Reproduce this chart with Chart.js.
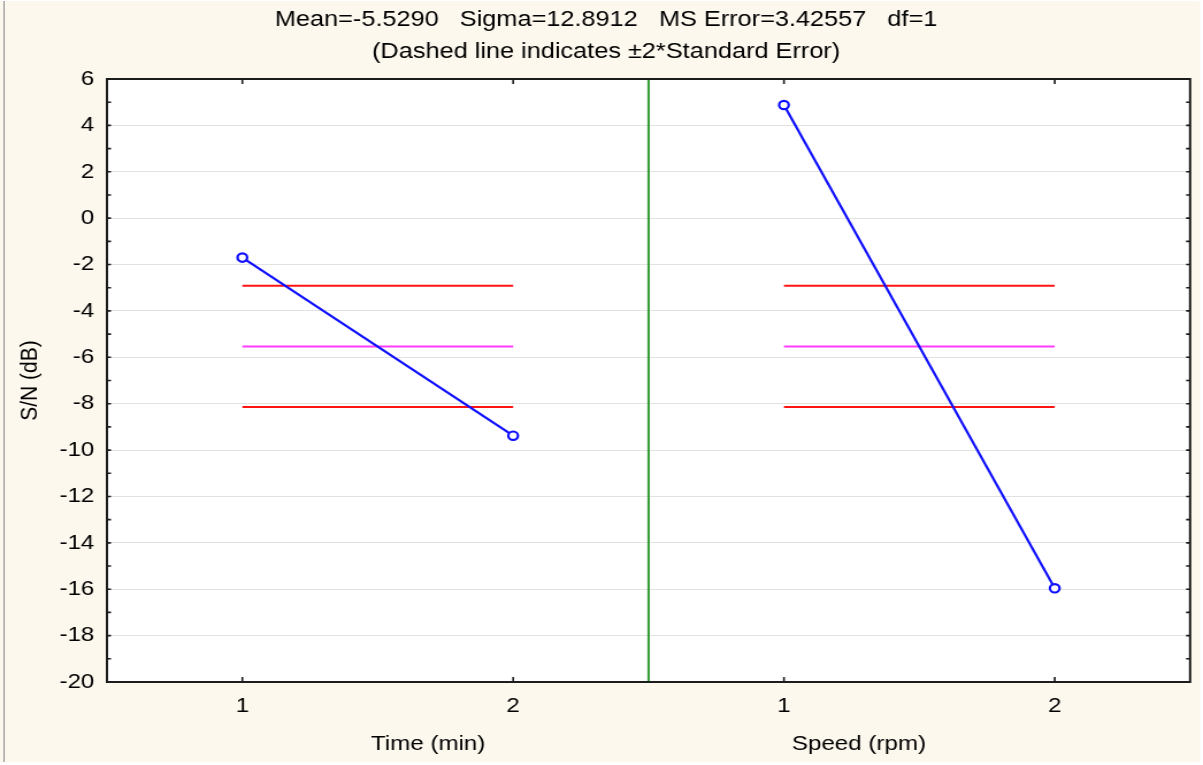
<!DOCTYPE html>
<html>
<head>
<meta charset="utf-8">
<title>S/N main effects</title>
<script src="https://cdn.jsdelivr.net/npm/chart.js@4.4.1/dist/chart.umd.min.js"></script>
<style>
  html, body { margin: 0; padding: 0; background: #ffffff; }
  #c { display: block; width: 1203px !important; height: 765px !important; }
</style>
</head>
<body>
<canvas id="c" width="1046" height="765" style="width:1203px;height:765px;display:block"></canvas>
<script>
// ---- values ----
const factorNames = ['Time (min)', 'Speed (rpm)'];
const xTickLabels = ['1', '2', '1', '2'];
const timeSN = [-1.70, -9.38];
const speedSN = [4.88, -15.96];
const meanSN = -5.529;
const upperLimit = -2.912;   // mean + 2*SE
const lowerLimit = -8.146;   // mean - 2*SE
const yMin = -20, yMax = 6, yStep = 2;
const titleLines = [
  'Mean=-5.5290   Sigma=12.8912   MS Error=3.42557   df=1',
  '(Dashed line indicates \u00b12*Standard Error)'
];

// ---- helpers ----
const FONT = "'Liberation Sans', Arial, sans-serif";
const BLUE = '#1010ff', RED = '#ff1414', MAGENTA = '#ff3cff', GREEN = '#2e9b2e';

// each factor occupies two units of the x scale; levels sit at the half steps
const xPos = (panel, level) => panel * 2 + level + 0.5;
const effect = (vals, panel) => vals.map((v, i) => ({ x: xPos(panel, i), y: v }));
const hline = (v, panel) => [{ x: xPos(panel, 0), y: v }, { x: xPos(panel, 1), y: v }];

const refLine = (data, color) => ({
  data, showLine: true, borderColor: color, borderWidth: 2,
  pointRadius: 0, pointHoverRadius: 0, fill: false
});
const effectLine = (data) => ({
  data, showLine: true, borderColor: BLUE, borderWidth: 2.2,
  pointRadius: 4.2, pointBorderWidth: 2.2, pointBorderColor: BLUE,
  pointBackgroundColor: '#ffffff', pointStyle: 'circle', fill: false
});

const datasets = [
  effectLine(effect(timeSN, 0)),
  effectLine(effect(speedSN, 1)),
  refLine(hline(upperLimit, 0), RED),
  refLine(hline(lowerLimit, 0), RED),
  refLine(hline(upperLimit, 1), RED),
  refLine(hline(lowerLimit, 1), RED),
  refLine(hline(meanSN, 0), MAGENTA),
  refLine(hline(meanSN, 1), MAGENTA),
  refLine([{ x: 2, y: yMin }, { x: 2, y: yMax }], GREEN)
];

// page backdrop, plot background
const backdrop = {
  id: 'backdrop',
  beforeDraw(chart) {
    const { ctx, chartArea: a } = chart;
    ctx.save();
    ctx.fillStyle = '#ffffff';
    ctx.fillRect(0, 0, chart.width, chart.height);
    ctx.fillStyle = '#fdf8ee';
    ctx.fillRect(0, 1, 1043.5, 761);
    ctx.fillStyle = '#8a8a8a';
    ctx.fillRect(3, 1, 1, 761);
    ctx.fillStyle = '#ffffff';
    ctx.fillRect(a.left, a.top, a.right - a.left, a.bottom - a.top);
    ctx.restore();
  }
};

// black frame with inward tick marks, plus factor names under the axis
const frame = {
  id: 'frame',
  afterDatasetsDraw(chart) {
    const { ctx, chartArea: a, scales: { x, y } } = chart;
    ctx.save();
    ctx.strokeStyle = '#1c1c1c';
    ctx.lineWidth = 1.6;
    ctx.beginPath();
    for (let v = yMin + 1; v < yMax; v++) {
      const py = y.getPixelForValue(v);
      ctx.moveTo(a.left, py); ctx.lineTo(a.left + 3.5, py);
      ctx.moveTo(a.right, py); ctx.lineTo(a.right - 3.5, py);
    }
    x.ticks.forEach(t => {
      const px = x.getPixelForValue(t.value);
      ctx.moveTo(px, a.bottom); ctx.lineTo(px, a.bottom - 5);
      ctx.moveTo(px, a.top); ctx.lineTo(px, a.top + 5);
    });
    ctx.stroke();
    ctx.lineWidth = 2;
    ctx.strokeRect(a.left, a.top, a.right - a.left, a.bottom - a.top);
    ctx.restore();
  },
  afterDraw(chart, args, opts) {
    const { ctx, scales: { x } } = chart;
    ctx.save();
    ctx.fillStyle = '#000';
    ctx.font = `21px ${FONT}`;
    ctx.textAlign = 'center';
    ctx.textBaseline = 'alphabetic';
    factorNames.forEach((name, i) => {
      ctx.fillText(name, x.getPixelForValue(opts.labelAt[i]), opts.baseline);
    });
    ctx.restore();
  }
};

new Chart(document.getElementById('c'), {
  type: 'scatter',
  data: { datasets },
  plugins: [backdrop, frame],
  options: {
    responsive: false,
    devicePixelRatio: 1,
    animation: false,
    events: [],
    layout: { padding: { left: 8, right: 0, top: 0, bottom: 0 } },
    plugins: {
      legend: { display: false },
      tooltip: { enabled: false },
      title: {
        display: true,
        text: titleLines,
        color: '#000',
        font: { family: FONT, size: 22, weight: 'normal', lineHeight: 32 / 22 },
        padding: { top: 4, bottom: 11 }
      },
      frame: { labelAt: [1.186, 2.777], baseline: 750 }
    },
    scales: {
      x: {
        type: 'linear', min: 0, max: 4,
        afterBuildTicks(s) { s.ticks = xTickLabels.map((_, i) => ({ value: i + 0.5 })); },
        ticks: {
          callback: (v, i) => xTickLabels[i],
          autoSkip: false, maxRotation: 0, padding: 12,
          color: '#000', font: { family: FONT, size: 21 }
        },
        grid: { display: false, drawTicks: false },
        border: { display: false },
        afterFit(s) { s.height = 83; }
      },
      y: {
        type: 'linear', min: yMin, max: yMax,
        ticks: {
          stepSize: yStep, padding: 11,
          color: '#000', font: { family: FONT, size: 21 }
        },
        grid: { color: '#e2e2e2', lineWidth: 1, drawTicks: false },
        border: { display: false },
        title: {
          display: true, text: 'S/N (dB)', color: '#000',
          font: { family: FONT, size: 21 },
          padding: { top: 5.5, bottom: 0 }
        },
        afterFit(s) { s.width = 85; }
      },
      yRight: {
        type: 'linear', position: 'right', min: yMin, max: yMax,
        ticks: { display: false },
        grid: { display: false, drawTicks: false },
        border: { display: false },
        afterFit(s) { s.width = 11.2; }
      }
    }
  }
});
</script>
</body>
</html>
